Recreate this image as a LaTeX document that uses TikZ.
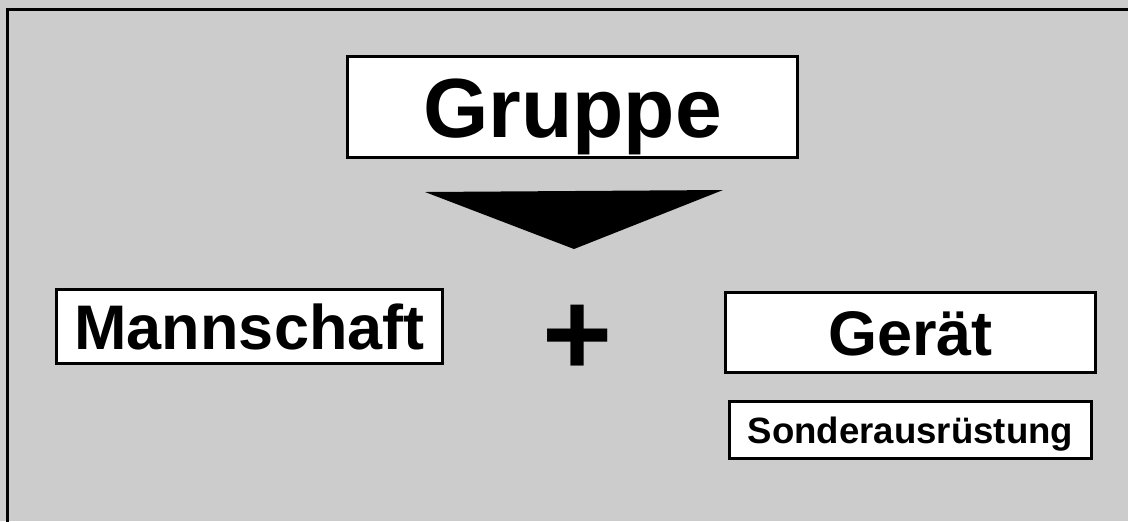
\documentclass[tikz,border=0pt]{standalone}
\usepackage{fontspec}
\setmainfont{Liberation Sans}
\definecolor{hellgrau}{HTML}{CCCCCC}

\tikzset{
  kasten/.style={draw=black, fill=white, line width=1.5pt, inner sep=0pt, text depth=0pt},
  gross/.style={font=\bfseries\fontsize{42}{42}\selectfont, text height=30.1pt},
  mittel/.style={font=\bfseries\fontsize{31.5}{31.5}\selectfont, text height=22.6pt},
  klein/.style={font=\bfseries\fontsize{18.3}{18.3}\selectfont, text height=13.1pt},
}

\begin{document}
\begin{tikzpicture}[x=0.5pt, y=-0.5pt]
% background and frame
\useasboundingbox (0,0) rectangle (1128,521);
\fill[hellgrau] (0,0) rectangle (1128,521);
\draw[line width=1.5pt] (7.5,540) -- (7.5,9.5) -- (1140,9.5);
% box Gruppe
\node[kasten, gross, minimum width=225pt, minimum height=50.5pt] (gruppe) at (572.5,107) {Gruppe};
% arrow head
\coordinate (L) at (425,192) ;
\coordinate (R) at (723,190) ;
\coordinate (S) at (574,249) ;
\fill[black] (L) -- (R) -- (S) -- cycle ;
% boxes Mannschaft + Geraet
\node[kasten, mittel, minimum width=193pt, minimum height=37pt] (mannschaft) at (249.5,326.5) {Mannschaft};
\node[font=\bfseries\fontsize{60}{60}\selectfont, inner sep=0pt, anchor=base] (plus) at (578,375) {+};
\node[kasten, mittel, minimum width=185pt, minimum height=40pt] (geraet) at (910.5,332.5) {Gerät};
\node[kasten, klein, minimum width=181pt, minimum height=28.5pt] (sonder) at (910.5,430) {Sonderausrüstung};
\end{tikzpicture}
\end{document}
